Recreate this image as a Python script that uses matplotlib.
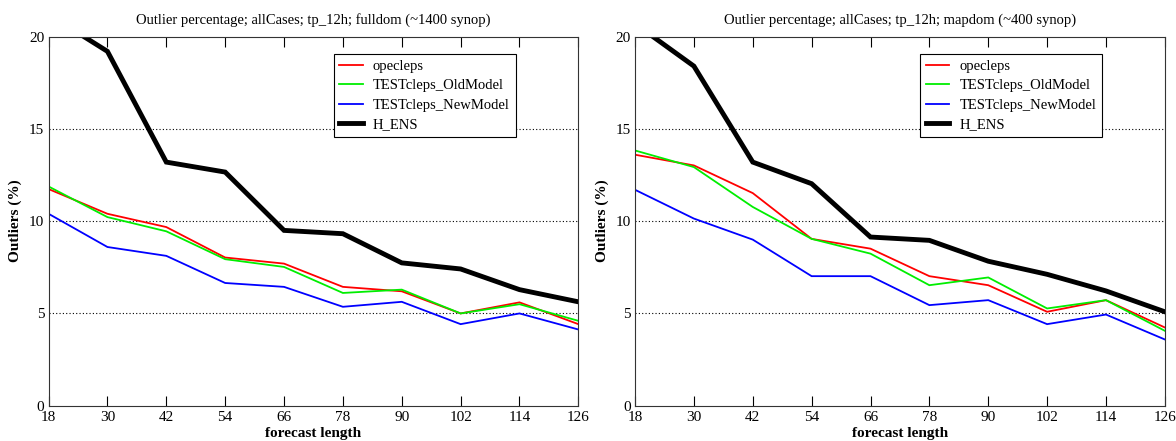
import matplotlib
matplotlib.use("Agg")
import matplotlib.pyplot as plt

hours = [18, 30, 42, 54, 66, 78, 90, 102, 114, 126]
series_names = ["opecleps", "TESTcleps_OldModel", "TESTcleps_NewModel", "H_ENS"]

full_opecleps = [11.74, 10.4, 9.68, 8.03, 7.7, 6.44, 6.2, 5.0, 5.6, 4.42]
full_old = [11.88, 10.22, 9.45, 7.94, 7.52, 6.11, 6.29, 5.0, 5.5, 4.6]
full_new = [10.4, 8.6, 8.12, 6.65, 6.44, 5.36, 5.63, 4.42, 5.0, 4.13]
full_hens = [21.2, 19.2, 13.2, 12.66, 9.5, 9.32, 7.74, 7.41, 6.29, 5.63]

map_opecleps = [13.6, 13.02, 11.52, 9.04, 8.51, 7.02, 6.53, 5.09, 5.72, 4.24]
map_old = [13.83, 12.93, 10.77, 9.04, 8.24, 6.53, 6.95, 5.27, 5.72, 4.06]
map_new = [11.7, 10.14, 9.0, 7.02, 7.02, 5.45, 5.72, 4.42, 4.94, 3.59]
map_hens = [20.7, 18.4, 13.2, 12.03, 9.14, 8.96, 7.83, 7.12, 6.22, 5.09]

titles = ["Outlier percentage; allCases; tp_12h; fulldom (~1400 synop)",
          "Outlier percentage; allCases; tp_12h; mapdom (~400 synop)"]
yticks = [0, 5, 10, 15, 20]

plt.rcParams['font.family'] = ['Liberation Serif', 'DejaVu Serif']

fig = plt.figure(figsize=(11.76, 4.41), dpi=100)
ax1 = fig.add_axes([0.0413, 0.0800, 0.4505, 0.837])
ax2 = fig.add_axes([0.5400, 0.0800, 0.4505, 0.837])

colors = ["#ff0000", "#00ee00", "#0000ff", "#000000"]
widths = [1.3, 1.3, 1.3, 3.5]

panels = [
    (ax1, [full_opecleps, full_old, full_new, full_hens], titles[0]),
    (ax2, [map_opecleps, map_old, map_new, map_hens], titles[1]),
]
for ax, data, title in panels:
    for vals, name, c, lw in zip(data, series_names, colors, widths):
        ax.plot(hours, vals, color=c, lw=lw, label=name, solid_joinstyle='miter')
    ax.set_xlim(18, 126)
    ax.set_ylim(0, 20)
    ax.set_xticks(hours)
    ax.set_yticks(yticks)
    ax.tick_params(axis='x', direction='in', top=True, length=7.5, width=0.8,
                   labelsize=11, pad=4)
    ax.tick_params(axis='y', length=0, labelsize=11, pad=3)
    for y in [5, 10, 15]:
        ax.axhline(y, color='black', lw=0.8, ls=(0, (1, 2)), zorder=0)
    for s in ax.spines.values():
        s.set_linewidth(0.8)
        s.set_color('#333333')
    ax.set_title(title, fontsize=10.5, pad=9)
    ax.set_xlabel("forecast length", fontsize=11, fontweight='bold')
    ax.xaxis.set_label_coords(0.5, -0.076, transform=ax.transAxes)
    ax.xaxis.label.set_va('center')
    ax.set_ylabel("Outliers (%)", fontsize=11, fontweight='bold')
    ax.yaxis.set_label_coords(-0.062, 0.5, transform=ax.transAxes)
    ax.yaxis.label.set_va('center')
    leg = ax.legend(loc='upper left', bbox_to_anchor=(0.538, 0.953), fontsize=10.5,
                    fancybox=False, framealpha=1, edgecolor='black',
                    borderaxespad=0, handlelength=1.6, handletextpad=0.7,
                    borderpad=0.4, labelspacing=0.42)
    leg.get_frame().set_linewidth(0.8)

fig.savefig("out.png", dpi=100)
